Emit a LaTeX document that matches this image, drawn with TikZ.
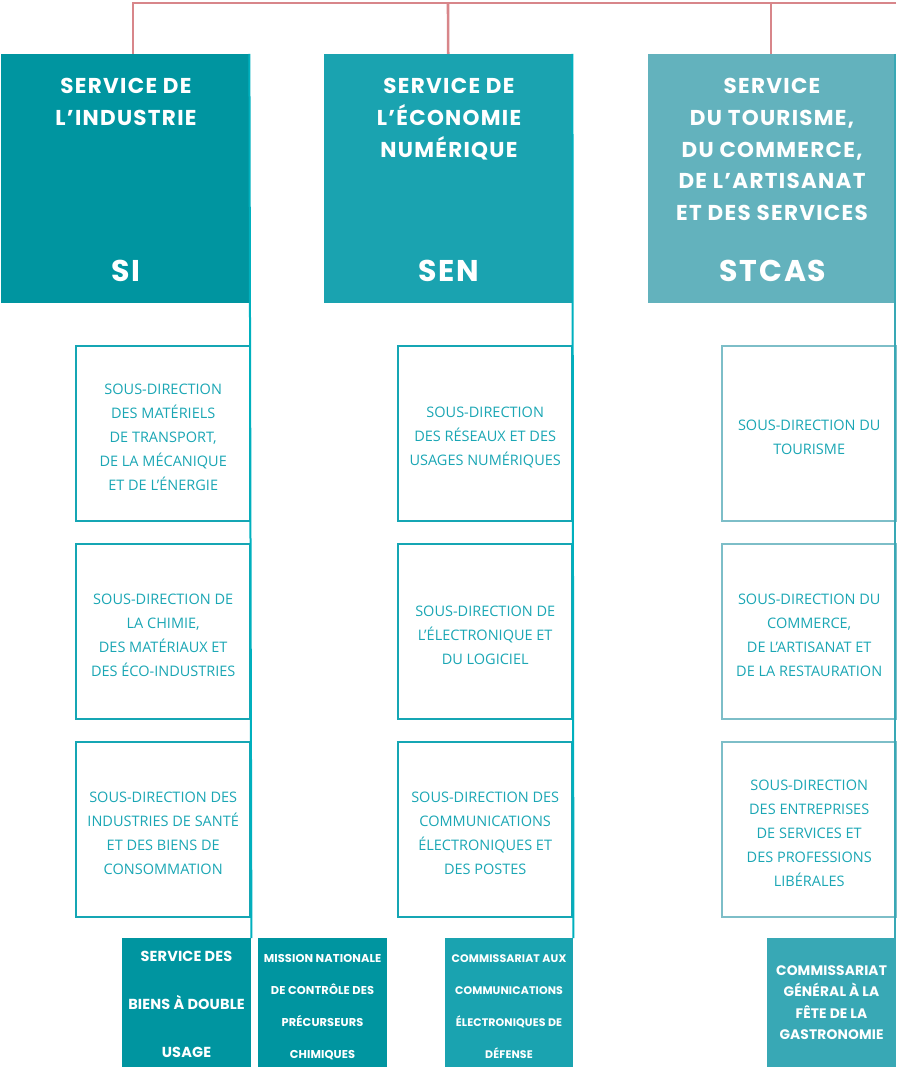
\documentclass[tikz,border=0pt]{standalone}
\usepackage{fontspec}
\setmainfont{Open Sans}
\newfontfamily\headfont[LetterSpace=6]{Poppins}
\newfontfamily\unitfont[LetterSpace=1]{Poppins}
\usetikzlibrary{positioning}
\definecolor{linkpink}{RGB}{216,134,138}
\definecolor{siteal}{RGB}{0,149,160}
\definecolor{senteal}{RGB}{26,163,176}
\definecolor{stcasteal}{RGB}{99,178,189}
\definecolor{stcasdeep}{RGB}{56,168,181}
\definecolor{subline}{RGB}{21,166,180}
\definecolor{sublight}{RGB}{125,190,200}
\definecolor{subtext}{RGB}{26,166,180}
\definecolor{trunk}{RGB}{0,176,190}
\tikzset{
  headbox/.style={anchor=north west, minimum width=248pt, minimum height=249pt, inner sep=0pt, draw=none},
  headtitle/.style={text=white, align=center, font=\headfont\bfseries\fontsize{21.5}{31.8}\selectfont, inner sep=0pt, anchor=north},
  headabbr/.style={text=white, font=\headfont\bfseries\fontsize{30}{32}\selectfont, inner sep=0pt},
  subbox/.style={anchor=north west, minimum width=174pt, minimum height=175pt, inner sep=0pt, draw=subline, line width=2.4pt},
  subtxt/.style={text=subtext, align=center, font=\fontsize{14.5}{24}\selectfont, inner sep=0pt, yshift=-4pt},
  botbox/.style={anchor=north west, minimum height=129pt, inner sep=0pt, draw=none},
  bottxt/.style={text=white, align=center, inner sep=0pt, anchor=north},
  pinkline/.style={draw=linkpink, line width=2.6pt},
  trunkline/.style={draw=trunk, line width=2pt}
}
\begin{document}
\begin{tikzpicture}[x=1pt,y=-1pt]
\useasboundingbox (0,0) rectangle (896,1067);

% service headers
\node[headbox, fill=siteal] (si) at (1,54) {};
\node[headbox, fill=senteal] (sen) at (324,54) {};
\node[headbox, fill=stcasteal] (stcas) at (648,54) {};

\node[headtitle] (sit) at (126,78) {SERVICE DE\\L’INDUSTRIE};
\node[headtitle] (sent) at (449,78) {SERVICE DE\\L’ÉCONOMIE\\NUMÉRIQUE};
\node[headtitle] (stcast) at (772,78) {SERVICE\\DU TOURISME,\\DU COMMERCE,\\DE L’ARTISANAT\\ET DES SERVICES};
\node[headabbr] (sia) at (126,271) {SI};
\node[headabbr] (sena) at (449,271) {SEN};
\node[headabbr] (stcasa) at (773,271) {STCAS};

% top link
\coordinate (topl) at (133,3);
\coordinate (topr) at (896,3);
\draw[pinkline] (topr) -- (topl) -- (topl |- si.north);
\draw[pinkline] (448,3) -- (sen.north);
\draw[pinkline] (771,3) -- (771,54);

% bottom units
\node[botbox, minimum width=129pt, fill=siteal] (sib1) at (122,938) {};
\node[botbox, minimum width=129pt, fill=siteal] (sib2) at (258,938) {};
\node[botbox, minimum width=128pt, fill=senteal] (senb) at (445,938) {};
\node[botbox, minimum width=129pt, fill=stcasdeep] (stcasb) at (767,938) {};

\node[bottxt, font=\unitfont\bfseries\fontsize{14.5}{48}\selectfont] (sib1t) at (186.5,951) {SERVICE DES\\BIENS À DOUBLE\\USAGE};
\node[bottxt, font=\unitfont\bfseries\fontsize{11.4}{32}\selectfont] (sib2t) at (322.5,954) {MISSION NATIONALE\\DE CONTRÔLE DES\\PRÉCURSEURS\\CHIMIQUES};
\node[bottxt, font=\unitfont\bfseries\fontsize{11}{32}\selectfont] (senbt) at (509,954) {COMMISSARIAT AUX\\COMMUNICATIONS\\ÉLECTRONIQUES DE\\DÉFENSE};
\node[bottxt, font=\unitfont\bfseries\fontsize{13.8}{21.5}\selectfont] (stcasbt) at (831.5,965) {COMMISSARIAT\\GÉNÉRAL À LA\\FÊTE DE LA\\GASTRONOMIE};

% sub-directions, SI
\node[subbox] (si1) at (75,345) {};
\node[subbox] (si2) at (75,543) {};
\node[subbox] (si3) at (75,741) {};
\node[subtxt] (si1t) at (si1.center) {SOUS-DIRECTION\\DES MATÉRIELS\\DE TRANSPORT,\\DE LA MÉCANIQUE\\ET DE L’ÉNERGIE};
\node[subtxt] (si2t) at (si2.center) {SOUS-DIRECTION DE\\LA CHIMIE,\\DES MATÉRIAUX ET\\DES ÉCO-INDUSTRIES};
\node[subtxt] (si3t) at (si3.center) {SOUS-DIRECTION DES\\INDUSTRIES DE SANTÉ\\ET DES BIENS DE\\CONSOMMATION};

% sub-directions, SEN
\node[subbox] (sen1) at (397,345) {};
\node[subbox] (sen2) at (397,543) {};
\node[subbox] (sen3) at (397,741) {};
\node[subtxt] (sen1t) at (sen1.center) {SOUS-DIRECTION\\DES RÉSEAUX ET DES\\USAGES NUMÉRIQUES};
\node[subtxt] (sen2t) at (sen2.center) {SOUS-DIRECTION DE\\L’ÉLECTRONIQUE ET\\DU LOGICIEL};
\node[subtxt] (sen3t) at (sen3.center) {SOUS-DIRECTION DES\\COMMUNICATIONS\\ÉLECTRONIQUES ET\\DES POSTES};

% sub-directions, STCAS
\node[subbox, draw=sublight] (st1) at (721,345) {};
\node[subbox, draw=sublight] (st2) at (721,543) {};
\node[subbox, draw=sublight] (st3) at (721,741) {};
\node[subtxt] (st1t) at (st1.center) {SOUS-DIRECTION DU\\TOURISME};
\node[subtxt] (st2t) at (st2.center) {SOUS-DIRECTION DU\\COMMERCE,\\DE L’ARTISANAT ET\\DE LA RESTAURATION};
\node[subtxt] (st3t) at (st3.center) {SOUS-DIRECTION\\DES ENTREPRISES\\DE SERVICES ET\\DES PROFESSIONS\\LIBÉRALES};

% trunks down each column
\draw[trunkline] (si.north east) -- (sib1.north east);
\draw[trunkline] (sen.north east) -- (senb.north east);
\draw[trunkline, draw=stcasdeep] ([xshift=-1pt]stcas.north east) -- ([xshift=-1pt]stcasb.north east);
\end{tikzpicture}
\end{document}
